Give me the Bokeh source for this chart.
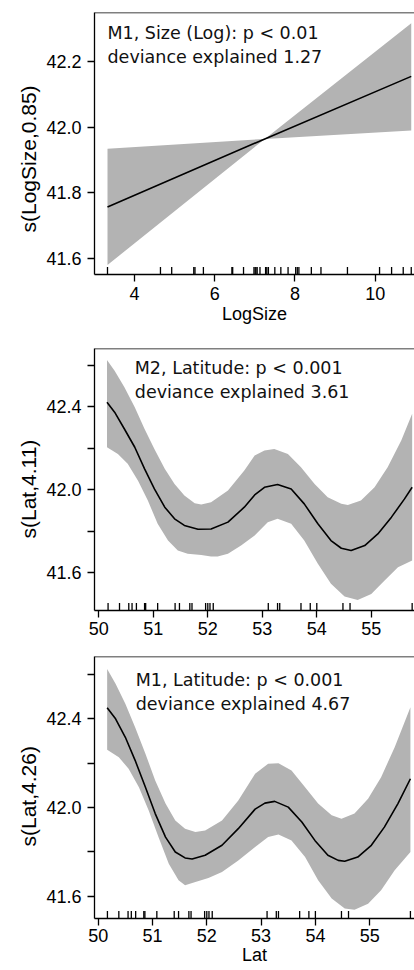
import numpy as np
from bokeh.plotting import figure
from bokeh.models import Range1d, FixedTicker, Span, Label, Title
from bokeh.layouts import column
from bokeh.embed import file_html
from bokeh.resources import INLINE

# ---------------- Panel 1: M1, Size (Log) ----------------
size_fit_x = [3.33, 7.25, 10.90]
size_fit = [41.757, 41.965, 42.156]
size_upper = [41.935, 41.965, 42.318]
size_lower = [41.580, 41.965, 41.991]
size_rug = [3.33, 4.65, 4.93, 5.48, 5.51, 5.72, 6.43, 6.45, 6.72, 6.98, 7.01, 7.03,
            7.06, 7.13, 7.27, 7.30, 7.34, 7.50, 7.65, 7.83, 8.02, 8.06, 8.10, 8.41,
            8.65, 9.31, 10.11, 10.41, 10.70, 10.90]
size_xticks = [4, 6, 8, 10]
size_yticks = [41.6, 41.8, 42.0, 42.2]
size_ytick_labels = ["41.6", "41.8", "42.0", "42.2"]
size_text = ["M1, Size (Log): p < 0.01", "deviance explained 1.27"]

# ---------------- Panel 2: M2, Latitude ----------------
m2_fit_x = [50.15, 50.29, 50.47, 50.66, 50.84, 51.02, 51.21, 51.39, 51.57, 51.82, 52.06,
            52.37, 52.67, 52.86, 53.04, 53.28, 53.53, 53.77, 54.02, 54.26, 54.45, 54.63,
            54.88, 55.12, 55.37, 55.61, 55.75]
m2_fit = [42.421, 42.373, 42.292, 42.204, 42.100, 42.003, 41.915, 41.859, 41.827, 41.809,
          41.810, 41.843, 41.915, 41.974, 42.011, 42.024, 42.003, 41.931, 41.835, 41.754,
          41.717, 41.706, 41.730, 41.786, 41.867, 41.955, 42.011]
m2_up_x = [50.15, 50.29, 50.47, 50.66, 50.84, 51.02, 51.21, 51.39, 51.57, 51.76, 51.88,
           52.06, 52.37, 52.67, 52.86, 53.04, 53.22, 53.47, 53.71, 53.96, 54.20, 54.45,
           54.57, 54.81, 55.06, 55.30, 55.55, 55.75]
m2_up = [42.625, 42.573, 42.493, 42.397, 42.292, 42.196, 42.100, 42.027, 41.971, 41.934,
         41.928, 41.939, 41.995, 42.092, 42.164, 42.188, 42.196, 42.172, 42.107, 42.027,
         41.963, 41.931, 41.926, 41.947, 42.011, 42.107, 42.236, 42.365]
m2_lo_x = [50.15, 50.35, 50.53, 50.72, 50.90, 51.08, 51.27, 51.45, 51.63, 51.88, 52.06,
           52.18, 52.37, 52.61, 52.86, 53.10, 53.28, 53.53, 53.77, 54.02, 54.26, 54.51,
           54.75, 55.00, 55.24, 55.49, 55.75]
m2_lo = [42.204, 42.172, 42.124, 42.043, 41.947, 41.835, 41.754, 41.706, 41.690, 41.685,
         41.677, 41.677, 41.690, 41.730, 41.778, 41.843, 41.859, 41.835, 41.754, 41.642,
         41.546, 41.484, 41.468, 41.497, 41.561, 41.626, 41.658]
m2_text = ["M2, Latitude: p < 0.001", "deviance explained 3.61"]

# ---------------- Panel 3: M1, Latitude ----------------
m1_fit_x = [50.165, 50.32, 50.50, 50.68, 50.87, 51.05, 51.24, 51.42, 51.60, 51.73, 51.97,
            52.28, 52.58, 52.89, 53.07, 53.25, 53.50, 53.75, 53.99, 54.23, 54.42, 54.54,
            54.78, 55.03, 55.27, 55.52, 55.75]
m1_fit = [42.450, 42.400, 42.317, 42.213, 42.092, 41.973, 41.867, 41.800, 41.773, 41.768,
          41.785, 41.830, 41.905, 41.993, 42.020, 42.028, 42.002, 41.935, 41.852, 41.785,
          41.762, 41.758, 41.777, 41.830, 41.912, 42.018, 42.130]
m1_up_x = [50.165, 50.32, 50.50, 50.68, 50.87, 51.05, 51.24, 51.42, 51.60, 51.79, 51.97,
           52.28, 52.58, 52.89, 53.13, 53.32, 53.56, 53.81, 54.05, 54.30, 54.48, 54.72,
           54.97, 55.21, 55.46, 55.75]
m1_up = [42.625, 42.558, 42.468, 42.362, 42.243, 42.122, 42.018, 41.942, 41.905, 41.890,
         41.897, 41.942, 42.032, 42.153, 42.198, 42.200, 42.167, 42.092, 42.018, 41.965,
         41.950, 41.973, 42.040, 42.137, 42.272, 42.452]
m1_lo_x = [50.165, 50.38, 50.56, 50.75, 50.93, 51.11, 51.30, 51.48, 51.60, 51.79, 52.03,
           52.28, 52.58, 52.89, 53.13, 53.32, 53.56, 53.81, 54.05, 54.30, 54.54, 54.72,
           54.97, 55.21, 55.46, 55.75]
m1_lo = [42.261, 42.227, 42.175, 42.092, 41.987, 41.867, 41.747, 41.672, 41.650, 41.665,
         41.683, 41.710, 41.762, 41.822, 41.867, 41.879, 41.852, 41.777, 41.672, 41.590,
         41.545, 41.540, 41.567, 41.627, 41.717, 41.800]
m1_text = ["M1, Latitude: p < 0.001", "deviance explained 4.67"]

lat_rug = [50.17, 50.38, 50.55, 50.61, 50.69, 50.84, 50.86, 51.08, 51.40, 51.48, 51.67,
           51.71, 51.96, 52.00, 52.04, 52.10, 53.11, 53.28, 53.32, 53.71, 53.88, 54.00,
           54.48, 54.61, 55.75]
lat_xticks = [50, 51, 52, 53, 54, 55]
lat_yticks = [41.6, 41.8, 42.0, 42.2, 42.4, 42.6]
lat_ytick_labels = ["41.6", "", "42.0", "", "42.4", ""]

BAND = "#b3b3b3"
TICK_FONT = "Liberation Sans"
IN_FONT = "DejaVu Sans"


def panel(height, top, bottom, left, xr, yr, xticks, yticks, ylabels, xlabel, ylabel,
          ylab_offset, bx, by, tx, ty, txt, fx, fy, rug, label_standoffs):
    p = figure(width=414, height=height, x_range=Range1d(*xr), y_range=Range1d(*yr),
               output_backend="svg", toolbar_location=None,
               min_border_left=left, min_border_right=0,
               min_border_top=top, min_border_bottom=bottom)
    p.grid.visible = False
    p.outline_line_color = None
    p.background_fill_color = "white"
    p.border_fill_color = "white"

    p.patch(bx, by, fill_color=BAND, line_color=None)
    p.line(fx, fy, line_color="black", line_width=1.6, line_join="round")
    p.rect(x=rug, y=[yr[0]] * len(rug), width=1.3, height=15,
           width_units="screen", height_units="screen",
           fill_color="black", line_color=None)

    for i, t in enumerate(txt):
        p.add_layout(Label(x=tx, y=ty[i], text=t, text_font=IN_FONT,
                           text_font_size="17.5px", text_color="#111111",
                           text_baseline="middle", text_align="left"))
    p.add_layout(Span(location=yr[1], dimension="width", line_color="black",
                      line_width=1.3))
    # y-axis title, placed like the original (slightly below the panel centre)
    p.add_layout(Title(text=ylabel, align="left", offset=ylab_offset, standoff=7,
                       text_font=TICK_FONT, text_font_size="21px",
                       text_font_style="normal", text_color="black"), "left")

    for ax in (p.xaxis[0], p.yaxis[0]):
        ax.axis_line_color = "black"
        ax.axis_line_width = 1.3
        ax.major_tick_line_color = "black"
        ax.major_tick_line_width = 1.3
        ax.major_tick_out = 7
        ax.major_tick_in = 0
        ax.minor_tick_line_color = None
        ax.major_label_text_font = TICK_FONT
        ax.major_label_text_font_size = "18px"
        ax.major_label_text_color = "black"
        ax.axis_label_text_font = TICK_FONT
        ax.axis_label_text_font_style = "normal"
        ax.axis_label_text_color = "black"

    p.xaxis.ticker = FixedTicker(ticks=xticks)
    p.yaxis.ticker = FixedTicker(ticks=yticks)
    p.yaxis.major_label_overrides = dict(zip(yticks, ylabels))
    p.yaxis.major_label_orientation = "horizontal"
    p.yaxis.major_label_standoff = 6
    p.xaxis.major_label_standoff = label_standoffs[0]
    if xlabel:
        p.xaxis.axis_label = xlabel
        p.xaxis.axis_label_text_font_size = "18px"
        p.xaxis.axis_label_standoff = label_standoffs[1]
    return p


p1 = panel(330, 12, 56, 93, (3.006, 10.981), (41.551, 42.351), size_xticks, size_yticks,
           size_ytick_labels, "LogSize", "s(LogSize,0.85)", 42,
           size_fit_x + size_fit_x[::-1], size_upper + size_lower[::-1],
           3.33, [42.287, 42.214], size_text, size_fit_x, size_fit, size_rug, (5, 1))

p2 = panel(314, 18, 34, 94, (49.921, 55.793), (41.417, 42.680), lat_xticks, lat_yticks,
           lat_ytick_labels, None, "s(Lat,4.11)", 72,
           m2_up_x + m2_lo_x[::-1], m2_up + m2_lo[::-1],
           50.66, [42.585, 42.472], m2_text, m2_fit_x, m2_fit, lat_rug, (4, 0))

p3 = panel(326, 12, 52, 93, (49.932, 55.825), (41.500, 42.681), lat_xticks, lat_yticks,
           lat_ytick_labels, "Lat", "s(Lat,4.26)", 72,
           m1_up_x + m1_lo_x[::-1], m1_up + m1_lo[::-1],
           50.69, [42.573, 42.469], m1_text, m1_fit_x, m1_fit, lat_rug, (3, 0))

layout = column(p1, p2, p3, spacing=0)
open("out.html", "w").write(file_html(layout, INLINE))
